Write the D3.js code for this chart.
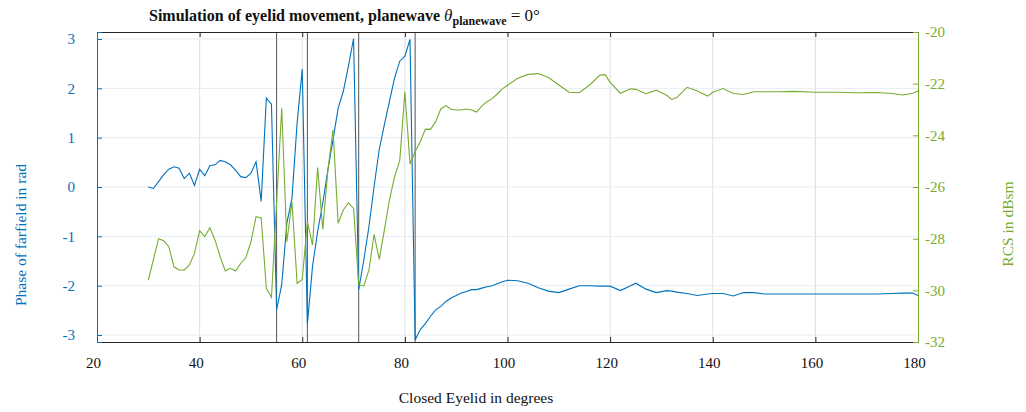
<!DOCTYPE html>
<html lang="en">
<head>
    <meta charset="UTF-8">
    <title>Simulation of eyelid movement</title>
    <script src="https://d3js.org/d3.v7.min.js"></script>
    <style>
        body { margin: 0; background: #fff; }
        text { font-family: "Liberation Serif", "DejaVu Serif", serif; }
    </style>
</head>
<body>
<svg id="main" width="1026" height="412"></svg>
<script>
    // closed eyelid angle (deg)
    const eyelid = [30,31,32,33,34,35,36,37,38,39,40,41,42,43,44,45,46,47,48,49,
        50,51,52,53,54,55,56,57,58,59,60,61,62,63,64,65,66,67,68,69,
        70,71,72,73,74,75,76,77,78,79,80,81,82,83,84,85,86,87,88,89,
        90,91,92,93,94,95,96,97,98,99,100,102,104,106,108,110,112,114,116,118,
        119,120,122,124,125,127,129,131,132,133,135,137,139,140,142,144,146,148,150,153,
        156,160,164,168,172,175,177,179,180];

    // phase of farfield (rad)
    const phase = [0.00,-0.03,0.11,0.25,0.36,0.41,0.38,0.17,0.28,0.03,0.36,0.23,0.43,0.45,0.54,0.51,0.45,0.34,0.21,0.19,
        0.28,0.51,-0.29,1.80,1.68,-2.49,-1.98,-0.73,-0.22,1.30,2.39,-2.78,-1.61,-0.90,-0.33,0.35,0.96,1.60,1.94,2.45,
        3.01,-2.08,-1.48,-0.80,0.01,0.76,1.26,1.74,2.21,2.55,2.65,2.99,-3.10,-2.89,-2.77,-2.62,-2.49,-2.42,-2.32,-2.25,
        -2.20,-2.15,-2.12,-2.08,-2.08,-2.05,-2.02,-2.00,-1.96,-1.92,-1.89,-1.90,-1.95,-2.04,-2.11,-2.14,-2.07,-2.00,-2.00,-2.01,
        -2.01,-2.01,-2.10,-2.00,-1.95,-2.07,-2.14,-2.10,-2.11,-2.13,-2.16,-2.20,-2.17,-2.16,-2.16,-2.21,-2.14,-2.14,-2.17,-2.17,
        -2.17,-2.17,-2.17,-2.17,-2.17,-2.16,-2.15,-2.15,-2.20];

    // RCS (dBsm)
    const rcs = [-29.60,-28.80,-28.00,-28.08,-28.31,-29.09,-29.21,-29.21,-29.02,-28.57,-27.69,-27.92,-27.58,-28.05,-28.70,-29.25,-29.15,-29.25,-28.96,-28.74,
        -28.12,-27.15,-27.20,-29.92,-30.27,-26.60,-22.95,-28.12,-26.57,-29.73,-29.58,-27.34,-28.25,-25.25,-27.64,-25.34,-23.79,-27.41,-26.89,-26.61,
        -26.83,-29.79,-29.83,-29.21,-27.83,-28.80,-27.67,-26.50,-25.60,-24.98,-22.31,-25.11,-24.63,-24.25,-23.76,-23.77,-23.47,-22.98,-22.85,-22.99,
        -23.02,-23.02,-22.98,-23.02,-23.10,-22.86,-22.70,-22.58,-22.40,-22.20,-22.06,-21.79,-21.64,-21.61,-21.76,-22.05,-22.33,-22.35,-22.05,-21.67,
        -21.65,-21.95,-22.37,-22.20,-22.22,-22.39,-22.25,-22.45,-22.61,-22.54,-22.14,-22.28,-22.48,-22.33,-22.19,-22.38,-22.42,-22.31,-22.31,-22.31,
        -22.30,-22.33,-22.33,-22.35,-22.34,-22.38,-22.44,-22.37,-22.27];

    // vertical marker lines (deg)
    const markers = [55, 61, 71, 82];

    const xTicks = [20,40,60,80,100,120,140,160,180];
    const leftTicks = [-3,-2,-1,0,1,2,3];
    const rightTicks = [-32,-30,-28,-26,-24,-22,-20];

    const blue = '#0072bd', green = '#77ac30';
    const pLeft = 97, pRight = 918, pTop = 32, pBottom = 342;

    let svg = d3.select('svg#main');

    let x = d3.scaleLinear().domain([20, 180]).range([pLeft, pRight]);
    let yL = d3.scaleLinear().domain([-Math.PI, Math.PI]).range([pBottom, pTop]);
    let yR = d3.scaleLinear().domain([-32, -20]).range([pBottom, pTop]);

    // grid
    svg.append('g').selectAll('line')
        .data(xTicks.slice(1, -1))
        .enter().append('line')
        .attr('x1', d => x(d)).attr('x2', d => x(d))
        .attr('y1', pTop).attr('y2', pBottom)
        .attr('stroke', '#dfdfe3').attr('stroke-width', 1);
    svg.append('g').selectAll('line')
        .data(leftTicks)
        .enter().append('line')
        .attr('x1', pLeft).attr('x2', pRight)
        .attr('y1', d => yL(d)).attr('y2', d => yL(d))
        .attr('stroke', '#e3edf6').attr('stroke-width', 1);

    // marker lines
    svg.append('g').selectAll('line')
        .data(markers)
        .enter().append('line')
        .attr('x1', d => x(d)).attr('x2', d => x(d))
        .attr('y1', pTop).attr('y2', pBottom)
        .attr('stroke', '#555').attr('stroke-width', 1);

    // data lines
    let pts = eyelid.map((d, i) => ({x: d, p: phase[i], r: rcs[i]}));
    svg.append('path')
        .datum(pts)
        .attr('fill', 'none').attr('stroke', blue).attr('stroke-width', 1.1)
        .attr('d', d3.line().x(d => x(d.x)).y(d => yL(d.p)));
    svg.append('path')
        .datum(pts)
        .attr('fill', 'none').attr('stroke', green).attr('stroke-width', 1.1)
        .attr('d', d3.line().x(d => x(d.x)).y(d => yR(d.r)));

    // axes
    let fmt = d => String(d);
    let bottomAxis = svg.append('g')
        .attr('transform', 'translate(0,' + pBottom + ')')
        .call(d3.axisBottom(x).tickValues(xTicks).tickSize(-5).tickPadding(15).tickFormat(fmt));
    bottomAxis.select('.domain').attr('stroke', '#262626');
    bottomAxis.selectAll('.tick line').attr('stroke', '#262626');
    bottomAxis.selectAll('text').attr('fill', '#111').style('font-size', '15px').attr('dx', -4);

    let topAxis = svg.append('g')
        .attr('transform', 'translate(0,' + pTop + ')')
        .call(d3.axisTop(x).tickValues(xTicks).tickSize(-5).tickFormat(''));
    topAxis.select('.domain').attr('stroke', '#262626');
    topAxis.selectAll('.tick line').attr('stroke', '#262626');

    let leftAxis = svg.append('g')
        .attr('transform', 'translate(' + pLeft + ',0)')
        .call(d3.axisLeft(yL).tickValues(leftTicks).tickSize(-5).tickPadding(22).tickFormat(fmt));
    leftAxis.select('.domain').attr('stroke', blue);
    leftAxis.selectAll('.tick line').attr('stroke', blue);
    leftAxis.selectAll('text').attr('fill', blue).style('font-size', '15px');

    let rightAxis = svg.append('g')
        .attr('transform', 'translate(' + pRight + ',0)')
        .call(d3.axisRight(yR).tickValues(rightTicks).tickSize(-5).tickPadding(7).tickFormat(fmt));
    rightAxis.select('.domain').attr('stroke', green);
    rightAxis.selectAll('.tick line').attr('stroke', green);
    rightAxis.selectAll('text').attr('fill', green).style('font-size', '15px');

    // labels
    svg.append('text')
        .attr('x', 476).attr('y', 403)
        .attr('text-anchor', 'middle').style('font-size', '15.5px').attr('fill', '#111')
        .text('Closed Eyelid in degrees');
    svg.append('text')
        .attr('transform', 'translate(26,235) rotate(-90)')
        .attr('text-anchor', 'middle').style('font-size', '15.5px').attr('fill', blue)
        .text('Phase of farfield in rad');
    svg.append('text')
        .attr('transform', 'translate(1013,224) rotate(-90)')
        .attr('text-anchor', 'middle').style('font-size', '15.5px').attr('fill', green)
        .text('RCS in dBsm');

    // title
    let title = svg.append('text')
        .attr('x', 149).attr('y', 21)
        .style('font-size', '16px').attr('fill', '#111');
    title.append('tspan').style('font-weight', 'bold').text('Simulation of eyelid movement, planewave ');
    title.append('tspan').style('font-style', 'italic').style('font-size', '17px').text('θ');
    title.append('tspan').attr('dy', 4).style('font-weight', 'bold').style('font-size', '12px').text('planewave');
    title.append('tspan').attr('dy', -4).style('font-size', '17px').text(' = 0°');
</script>
</body>
</html>
